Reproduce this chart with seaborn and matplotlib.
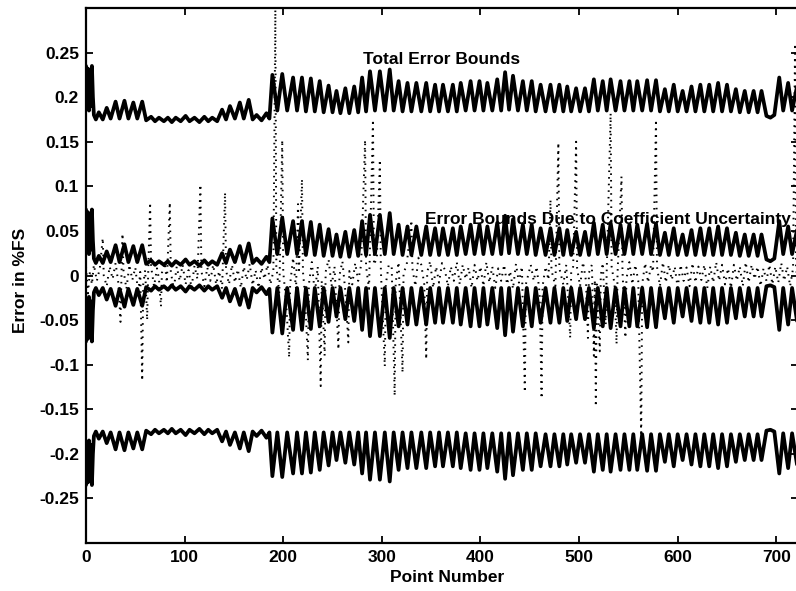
import matplotlib
matplotlib.use("Agg")
import matplotlib.pyplot as plt
import seaborn as sns
import numpy as np
from matplotlib.ticker import FixedLocator, FixedFormatter

# ---------------- data ----------------
# point numbers of the peak / trough vertices shared by the bound curves
bound_x = [0, 1, 2, 3, 4, 5, 6, 7, 8,
           10, 13, 17, 21, 25, 30, 34, 39, 43, 48, 52, 57, 61, 66, 70, 74, 79, 83, 87, 91,
           96, 101, 105, 110, 115, 120, 124, 128, 133, 138, 142, 146, 151, 156, 160, 165,
           169, 173, 178, 183, 186,
           189, 194, 199, 204, 210, 214, 219, 223, 228, 232, 237, 241, 246, 250, 254, 258,
           263, 267, 272, 276, 280, 284, 288, 293, 298, 303, 308, 312, 317, 321, 326, 330,
           335, 340, 345, 349, 354, 358, 362, 367, 372, 376, 380, 385, 390, 394, 399, 403,
           407, 412, 417, 421, 425, 429, 433, 438, 443, 447, 452, 456, 461, 466, 471, 475,
           480, 484, 488, 492, 497, 501, 506, 510, 515, 519, 524, 528, 532, 537, 542, 546,
           551, 555, 559, 564, 569, 573, 578, 582, 587, 591, 596, 600, 605, 609, 614, 618,
           623, 627, 632, 636, 641, 645, 650, 654, 659, 663, 668, 672, 677, 681, 685, 690,
           694, 698, 703, 707, 712, 716, 721]

total_upper = [0.235, 0.19, 0.232, 0.185, 0.228, 0.19, 0.235, 0.2, 0.18,
               0.175, 0.183, 0.175, 0.188, 0.176, 0.195, 0.176, 0.196, 0.176, 0.194, 0.176,
               0.195, 0.174, 0.178, 0.173, 0.177, 0.173, 0.177, 0.172, 0.177, 0.173, 0.179,
               0.173, 0.177, 0.172, 0.178, 0.173, 0.177, 0.173, 0.186, 0.175, 0.190, 0.176,
               0.194, 0.176, 0.197, 0.175, 0.180, 0.174, 0.182, 0.176,
               0.225, 0.185, 0.226, 0.185, 0.222, 0.185, 0.222, 0.184, 0.221, 0.184,
               0.218, 0.183, 0.213, 0.183, 0.207, 0.182, 0.210, 0.182, 0.212, 0.183,
               0.222, 0.184, 0.229, 0.185, 0.229, 0.185, 0.231, 0.185, 0.218, 0.184,
               0.216, 0.184, 0.216, 0.184, 0.216, 0.184, 0.214, 0.184, 0.214, 0.184,
               0.214, 0.184, 0.216, 0.185, 0.218, 0.185, 0.218, 0.185, 0.216, 0.185,
               0.220, 0.185, 0.228, 0.186, 0.224, 0.185, 0.218, 0.185, 0.218, 0.184,
               0.214, 0.184, 0.214, 0.184, 0.214, 0.184, 0.212, 0.184, 0.210, 0.184,
               0.210, 0.184, 0.220, 0.185, 0.218, 0.185, 0.220, 0.185, 0.218, 0.185,
               0.218, 0.185, 0.218, 0.185, 0.219, 0.185, 0.219, 0.184, 0.209, 0.184,
               0.214, 0.184, 0.207, 0.184, 0.212, 0.184, 0.214, 0.184, 0.214, 0.184,
               0.216, 0.184, 0.214, 0.184, 0.209, 0.183, 0.207, 0.183, 0.207, 0.183,
               0.207, 0.179, 0.177, 0.180, 0.222, 0.185, 0.216, 0.185, 0.212]

coef_upper = [0.074, 0.029, 0.071, 0.024, 0.067, 0.029, 0.074, 0.039, 0.019,
              0.014, 0.022, 0.014, 0.027, 0.015, 0.034, 0.015, 0.035, 0.015, 0.033, 0.015,
              0.034, 0.013, 0.017, 0.012, 0.016, 0.012, 0.016, 0.011, 0.016, 0.012, 0.018,
              0.012, 0.016, 0.011, 0.017, 0.012, 0.016, 0.012, 0.025, 0.014, 0.029, 0.015,
              0.033, 0.015, 0.036, 0.014, 0.019, 0.013, 0.021, 0.015,
              0.064, 0.024, 0.065, 0.024, 0.061, 0.024, 0.061, 0.023, 0.060, 0.023,
              0.057, 0.022, 0.052, 0.022, 0.046, 0.021, 0.049, 0.021, 0.051, 0.022,
              0.061, 0.023, 0.068, 0.024, 0.068, 0.024, 0.070, 0.024, 0.057, 0.023,
              0.055, 0.023, 0.055, 0.023, 0.055, 0.023, 0.053, 0.023, 0.053, 0.023,
              0.053, 0.023, 0.055, 0.024, 0.057, 0.024, 0.057, 0.024, 0.055, 0.024,
              0.059, 0.024, 0.067, 0.025, 0.063, 0.024, 0.057, 0.024, 0.057, 0.023,
              0.053, 0.023, 0.053, 0.023, 0.053, 0.023, 0.051, 0.023, 0.049, 0.023,
              0.049, 0.023, 0.059, 0.024, 0.057, 0.024, 0.059, 0.024, 0.057, 0.024,
              0.057, 0.024, 0.057, 0.024, 0.058, 0.024, 0.058, 0.023, 0.048, 0.023,
              0.053, 0.023, 0.046, 0.023, 0.051, 0.023, 0.053, 0.023, 0.053, 0.023,
              0.055, 0.023, 0.053, 0.023, 0.048, 0.022, 0.046, 0.022, 0.046, 0.022,
              0.046, 0.018, 0.016, 0.019, 0.061, 0.024, 0.055, 0.024, 0.051]

coef_lower = [-0.074, -0.029, -0.071, -0.024, -0.067, -0.029, -0.074, -0.039, -0.019,
              -0.014, -0.022, -0.014, -0.027, -0.015, -0.034, -0.015, -0.035, -0.015, -0.033, -0.015,
              -0.034, -0.013, -0.017, -0.012, -0.016, -0.012, -0.016, -0.011, -0.016, -0.012, -0.018,
              -0.012, -0.016, -0.011, -0.017, -0.012, -0.016, -0.012, -0.025, -0.014, -0.029, -0.015,
              -0.033, -0.015, -0.036, -0.014, -0.019, -0.013, -0.021, -0.015,
              -0.064, -0.014, -0.065, -0.014, -0.061, -0.014, -0.061, -0.014, -0.060, -0.014,
              -0.057, -0.014, -0.052, -0.014, -0.046, -0.014, -0.049, -0.014, -0.051, -0.014,
              -0.061, -0.014, -0.068, -0.014, -0.068, -0.014, -0.070, -0.014, -0.057, -0.014,
              -0.055, -0.014, -0.055, -0.014, -0.055, -0.014, -0.053, -0.014, -0.053, -0.014,
              -0.053, -0.014, -0.055, -0.014, -0.057, -0.014, -0.057, -0.014, -0.055, -0.014,
              -0.059, -0.014, -0.067, -0.014, -0.063, -0.014, -0.057, -0.014, -0.057, -0.014,
              -0.053, -0.014, -0.053, -0.014, -0.053, -0.014, -0.051, -0.014, -0.049, -0.014,
              -0.049, -0.014, -0.059, -0.014, -0.057, -0.014, -0.059, -0.014, -0.057, -0.014,
              -0.057, -0.014, -0.057, -0.014, -0.058, -0.014, -0.058, -0.014, -0.048, -0.014,
              -0.053, -0.014, -0.046, -0.014, -0.051, -0.014, -0.053, -0.014, -0.053, -0.014,
              -0.055, -0.014, -0.053, -0.014, -0.048, -0.014, -0.046, -0.014, -0.046, -0.014,
              -0.046, -0.012, -0.011, -0.013, -0.061, -0.014, -0.055, -0.014, -0.051]

total_lower = [-0.235, -0.19, -0.232, -0.185, -0.228, -0.19, -0.235, -0.2, -0.18,
               -0.175, -0.183, -0.175, -0.188, -0.176, -0.195, -0.176, -0.196, -0.176, -0.194, -0.176,
               -0.195, -0.174, -0.178, -0.173, -0.177, -0.173, -0.177, -0.172, -0.177, -0.173, -0.179,
               -0.173, -0.177, -0.172, -0.178, -0.173, -0.177, -0.173, -0.186, -0.175, -0.190, -0.176,
               -0.194, -0.176, -0.197, -0.175, -0.180, -0.174, -0.182, -0.176,
               -0.225, -0.176, -0.226, -0.176, -0.222, -0.176, -0.222, -0.176, -0.221, -0.176,
               -0.218, -0.176, -0.213, -0.176, -0.207, -0.176, -0.210, -0.176, -0.212, -0.176,
               -0.222, -0.176, -0.229, -0.176, -0.229, -0.176, -0.231, -0.176, -0.218, -0.176,
               -0.216, -0.176, -0.216, -0.176, -0.216, -0.176, -0.214, -0.176, -0.214, -0.176,
               -0.214, -0.176, -0.216, -0.177, -0.218, -0.177, -0.218, -0.177, -0.216, -0.177,
               -0.220, -0.177, -0.228, -0.177, -0.224, -0.177, -0.218, -0.177, -0.218, -0.177,
               -0.214, -0.178, -0.214, -0.178, -0.214, -0.178, -0.212, -0.178, -0.210, -0.178,
               -0.210, -0.178, -0.220, -0.178, -0.218, -0.178, -0.220, -0.178, -0.218, -0.178,
               -0.218, -0.178, -0.218, -0.178, -0.219, -0.178, -0.219, -0.178, -0.209, -0.178,
               -0.214, -0.178, -0.207, -0.178, -0.212, -0.178, -0.214, -0.178, -0.214, -0.178,
               -0.216, -0.178, -0.214, -0.178, -0.209, -0.178, -0.207, -0.178, -0.207, -0.178,
               -0.207, -0.174, -0.173, -0.175, -0.222, -0.177, -0.216, -0.177, -0.212]

# measured error at each point (dotted trace)
resid_x = [0, 2, 4, 6, 8, 11, 14, 17, 18, 21, 24, 27, 30, 33, 35, 36, 37, 38, 41, 44, 47, 50,
           53, 55, 57, 58, 60, 62, 63, 65, 66, 69, 72, 74, 76, 77, 80, 82, 85, 86, 89, 92, 95,
           98, 101, 104, 107, 110, 113, 116, 117, 120, 123, 126, 129, 132, 135, 138, 141, 142,
           145, 148, 151, 154, 157, 160, 163, 166, 169, 172, 175, 178, 181, 184, 187, 190, 192,
           193, 196, 199, 200, 203, 206, 207, 210, 213, 215, 216, 219, 220, 222, 225, 226, 229,
           232, 235, 238, 239, 242, 243, 246, 249, 252, 256, 257, 260, 263, 266, 267, 270, 273,
           276, 279, 283, 284, 287, 291, 292, 295, 298, 299, 303, 304, 307, 310, 313, 314, 317,
           321, 322, 325, 330, 331, 334, 337, 340, 343, 345, 346, 349, 352, 355, 358, 361, 364,
           367, 370, 373, 376, 379, 382, 385, 388, 391, 394, 397, 400, 403, 406, 409, 412, 415,
           418, 421, 424, 427, 430, 433, 436, 439, 442, 445, 446, 451, 454, 457, 460, 462, 463,
           466, 469, 471, 472, 476, 479, 480, 484, 487, 491, 492, 494, 497, 498, 501, 504, 507,
           509, 510, 513, 515, 516, 517, 518, 521, 522, 524, 527, 528, 532, 533, 536, 538, 539,
           543, 544, 547, 548, 551, 554, 557, 560, 563, 564, 567, 570, 573, 575, 578, 579, 582,
           585, 588, 591, 594, 597, 600, 603, 606, 609, 612, 615, 618, 621, 624, 627, 630, 633,
           636, 639, 642, 645, 648, 651, 654, 657, 660, 663, 666, 669, 672, 675, 678, 681, 684,
           687, 690, 693, 696, 699, 702, 705, 708, 711, 714, 717, 719, 720, 722]
resid_y = [0.01, -0.02, 0.005, -0.01, 0.012, -0.006, 0.008, 0.042, 0.0, -0.012, 0.01, -0.004,
           0.014, -0.01, -0.052, 0.002, 0.047, 0.006, -0.015, 0.012, -0.005, 0.009, -0.02, 0.004,
           -0.118, -0.01, 0.006, -0.05, 0.0, 0.082, 0.01, -0.012, 0.008, -0.004, -0.035, 0.003,
           0.014, -0.008, 0.082, 0.004, -0.015, 0.01, -0.006, 0.012, -0.01, 0.006, -0.014, 0.011,
           -0.004, 0.102, 0.005, -0.012, 0.009, -0.006, 0.012, -0.01, 0.005, -0.015, 0.093, 0.006,
           -0.01, 0.012, -0.008, 0.007, -0.014, 0.01, -0.005, 0.013, -0.011, 0.006, -0.014, 0.009,
           -0.004, 0.012, -0.01, 0.005, 0.298, 0.01, -0.02, 0.152, 0.004, -0.03, -0.092, -0.01,
           0.02, -0.015, 0.08, 0.006, 0.108, 0.004, -0.02, -0.095, -0.01, 0.015, -0.02, 0.01,
           -0.124, -0.006, -0.09, 0.004, 0.018, -0.012, 0.01, -0.083, 0.0, 0.016, -0.018, -0.075,
           0.005, -0.01, 0.014, -0.006, 0.012, 0.152, 0.01, -0.015, 0.175, 0.012, 0.02, 0.13,
           0.006, -0.102, -0.01, 0.012, 0.01, -0.135, -0.008, 0.015, -0.109, 0.004, 0.01, 0.062,
           0.008, -0.012, 0.02, 0.012, -0.01, -0.094, 0.004, 0.016, -0.014, 0.01, -0.008, 0.014,
           0.006, -0.012, 0.01, -0.006, 0.015, -0.01, 0.012, -0.004, 0.009, -0.014, 0.012, -0.006,
           0.01, -0.012, 0.015, -0.008, 0.01, -0.014, 0.008, -0.006, 0.012, -0.01, 0.005, -0.015,
           0.013, -0.008, 0.01, -0.131, -0.01, 0.012, -0.006, 0.01, -0.02, -0.138, -0.012, 0.01,
           -0.005, 0.085, 0.006, -0.012, 0.149, 0.008, -0.01, 0.012, -0.07, 0.004, 0.01, 0.15,
           0.008, -0.012, 0.015, -0.006, -0.07, 0.003, 0.012, -0.09, -0.005, -0.147, -0.01,
           -0.085, 0.0, 0.014, -0.055, 0.004, 0.182, 0.01, -0.01, -0.077, 0.002, 0.111, 0.006,
           -0.07, -0.004, 0.015, -0.01, 0.012, -0.006, -0.18, -0.01, 0.014, -0.008, 0.012, 0.004,
           0.175, 0.01, -0.012, 0.015, -0.008, 0.012, -0.005, 0.01, -0.014, 0.012, -0.006, 0.009,
           -0.012, 0.014, -0.008, 0.01, -0.005, 0.012, -0.014, 0.01, -0.008, 0.015, -0.006, 0.012,
           -0.01, 0.008, -0.014, 0.012, -0.006, 0.01, -0.012, 0.015, -0.008, 0.012, -0.004, 0.01,
           -0.012, 0.008, -0.006, 0.012, -0.01, 0.01, -0.008, 0.014, -0.006, 0.01, -0.012, 0.008,
           0.26, 0.01, -0.01]

x_ticks = [0, 100, 200, 300, 400, 500, 600, 700]
x_tick_labels = ["0", "100", "200", "300", "400", "500", "600", "700"]
y_ticks = [-0.25, -0.2, -0.15, -0.1, -0.05, 0, 0.05, 0.1, 0.15, 0.2, 0.25]
y_tick_labels = ["-0.25", "-0.2", "-0.15", "-0.1", "-0.05", "0", "0.05", "0.1", "0.15",
                 "0.2", "0.25"]

for name, arr in [("total_upper", total_upper), ("coef_upper", coef_upper),
                  ("coef_lower", coef_lower), ("total_lower", total_lower)]:
    assert len(arr) == len(bound_x), (name, len(arr), len(bound_x))
assert len(resid_x) == len(resid_y), (len(resid_x), len(resid_y))

# ---------------- style ----------------
sns.set_theme(style="ticks")
plt.rcParams["font.family"] = ["Liberation Sans", "DejaVu Sans"]
plt.rcParams["font.weight"] = "bold"
plt.rcParams["text.color"] = "black"
plt.rcParams["axes.labelcolor"] = "black"
plt.rcParams["xtick.color"] = "black"
plt.rcParams["ytick.color"] = "black"
plt.rcParams["xtick.direction"] = "in"
plt.rcParams["ytick.direction"] = "in"

fig = plt.figure(figsize=(7.96, 5.91), dpi=100)
ax = fig.add_axes([86 / 796, 48 / 591, 712 / 796, 535 / 591])

sns.lineplot(x=resid_x, y=resid_y, ax=ax, color="black", lw=1.4,
             linestyle=(0, (0.8, 2.6)), estimator=None, sort=False)
for arr in (total_upper, coef_upper, coef_lower, total_lower):
    sns.lineplot(x=bound_x, y=arr, ax=ax, color="black", lw=2.7,
                 estimator=None, sort=False)

ax.set_xlim(0, 722)
ax.set_ylim(-0.3, 0.3)
ax.xaxis.set_major_locator(FixedLocator(x_ticks))
ax.xaxis.set_major_formatter(FixedFormatter(x_tick_labels))
ax.yaxis.set_major_locator(FixedLocator(y_ticks))
ax.yaxis.set_major_formatter(FixedFormatter(y_tick_labels))
ax.tick_params(axis="both", which="major", direction="in", length=5, width=1.3,
               labelsize=12.5, top=True, right=True, colors="black",
               labelcolor="black", pad=5)
for lab in ax.get_xticklabels() + ax.get_yticklabels():
    lab.set_fontweight("bold")
    lab.set_color("black")
for sp in ax.spines.values():
    sp.set_linewidth(1.6)
    sp.set_color("black")

ax.set_xlabel("Point Number", fontsize=12.5, fontweight="bold", color="black")
ax.set_ylabel("Error in %FS", fontsize=12.5, fontweight="bold", color="black")
ax.xaxis.set_label_coords(0.507, -0.05)
ax.yaxis.set_label_coords(-0.081, 0.49)

ax.text(281, 0.242, "Total Error Bounds", fontsize=12.5, fontweight="bold",
        va="center", ha="left", color="black")
ax.text(344, 0.063, "Error Bounds Due to Coefficient Uncertainty", fontsize=12.5,
        fontweight="bold", va="center", ha="left", clip_on=False, color="black")

fig.savefig("out.png", dpi=100, facecolor="white")
